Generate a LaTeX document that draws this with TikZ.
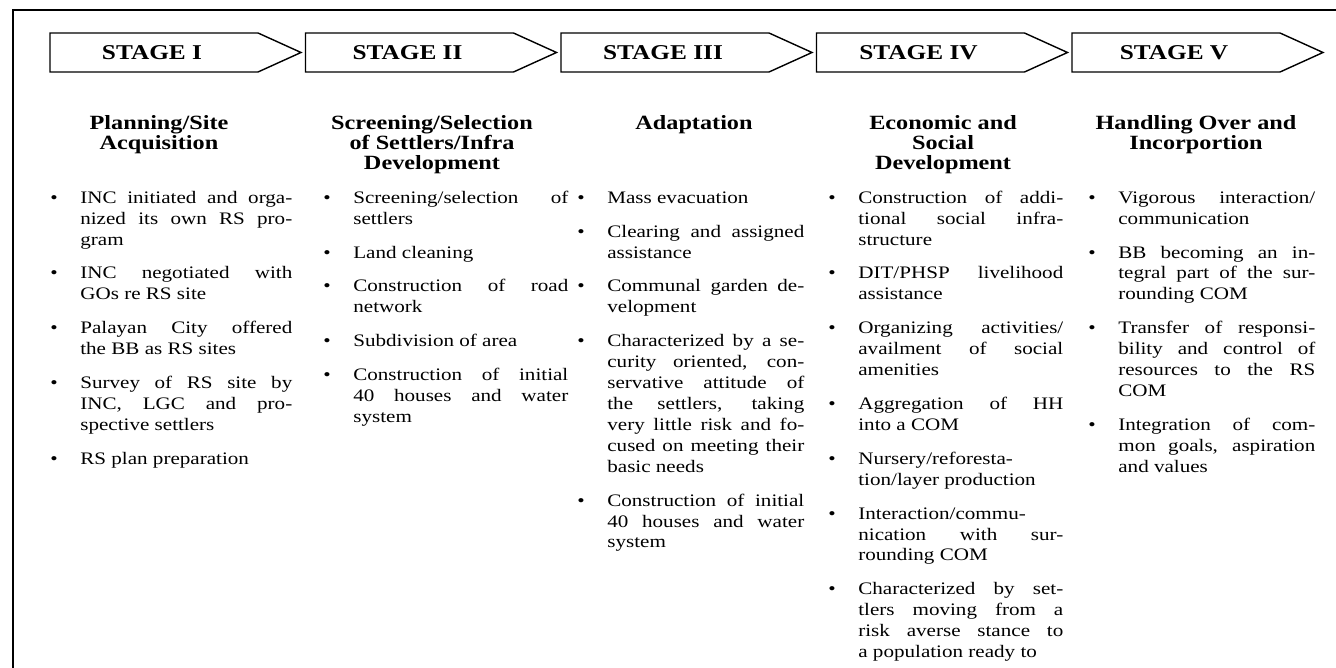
\documentclass[tikz,border=0pt]{standalone}
\usepackage{fontspec}
\setmainfont[FakeStretch=1.2]{Liberation Serif}
\usepackage{enumitem}
\setlist[itemize]{label=\textbullet, leftmargin=0.6cm, labelwidth=0.6cm, labelsep=0pt, align=left,
  topsep=0pt, partopsep=0pt, parsep=0pt, itemsep=0.26cm}
\tolerance=10000
\hbadness=10000
\tikzset{stage/.style={draw, line width=0.8pt}}
\tikzset{stagelabel/.style={font=\fontsize{12}{14}\selectfont\bfseries, inner sep=0pt}}
\tikzset{heading/.style={font=\fontsize{11.5}{11.3}\selectfont\bfseries, align=center, anchor=north, inner sep=0pt}}
\tikzset{bullets/.style={font=\fontsize{10}{11.9}\selectfont, align=justify, anchor=north west, inner sep=0pt}}

\begin{document}
\begin{tikzpicture}[x=0.02cm, y=-0.02cm]
\useasboundingbox (0,0) rectangle (1336,668);
% frame
\draw[line width=1pt] (13,668) -- (13,10) -- (1336,10);
% stages
\foreach \n [count=\i from 0] in {I,II,III,IV,V} {
  \draw[stage] ({50+255.5*\i},33) -- ++(208,0) -- ++(43,19.5) -- ++(-43,19.5) -- ++(-208,0) -- cycle;
  \node[stagelabel] (st\i) at ({152+255.5*\i},53) {STAGE \n};
}
% headings
\node[heading] (h0) at (159,115) {Planning/Site\\Acquisition};
\node[heading] (h1) at (432,115) {Screening/Selection\\of Settlers/Infra\\Development};
\node[heading] (h2) at (694,115) {Adaptation};
\node[heading] (h3) at (943,115) {Economic and\\Social\\Development};
\node[heading] (h4) at (1196,115) {Handling Over and\\Incorportion};
% lists
\node[bullets, text width=4.84cm] (l0) at (50,182) {\begin{itemize}
  \item INC initiated and orga-\linebreak nized its own RS pro-\linebreak gram
  \item INC negotiated with\linebreak GOs re RS site
  \item Palayan City offered\linebreak the BB as RS sites
  \item Survey of RS site by\linebreak INC, LGC and pro-\linebreak spective settlers
  \item RS plan preparation
\end{itemize}};
\node[bullets, text width=4.9cm] (l1) at (323,182) {\begin{itemize}
  \item Screening/selection of\linebreak settlers
  \item Land cleaning
  \item Construction of road\linebreak network
  \item Subdivision of area
  \item Construction of initial\linebreak 40 houses and water\linebreak system
\end{itemize}};
\node[bullets, text width=4.54cm] (l2) at (577,182) {\begin{itemize}
  \item Mass evacuation
  \item Clearing and assigned\linebreak assistance
  \item Communal garden de-\linebreak velopment
  \item Characterized by a se-\linebreak curity oriented, con-\linebreak servative attitude of\linebreak the settlers, taking\linebreak very little risk and fo-\linebreak cused on meeting their\linebreak basic needs
  \item Construction of initial\linebreak 40 houses and water\linebreak system
\end{itemize}};
\node[bullets, text width=4.7cm] (l3) at (828,182) {\begin{itemize}
  \item Construction of addi-\linebreak tional social infra-\linebreak structure
  \item DIT/PHSP livelihood\linebreak assistance
  \item Organizing activities/\linebreak availment of social\linebreak amenities
  \item Aggregation of HH\linebreak into a COM
  \item Nursery/reforesta-\linebreak tion/layer production
  \item Interaction/commu-\linebreak nication with sur-\linebreak rounding COM
  \item Characterized by set-\linebreak tlers moving from a\linebreak risk averse stance to\linebreak a population ready to
\end{itemize}};
\node[bullets, text width=4.54cm] (l4) at (1088,182) {\begin{itemize}
  \item Vigorous interaction/\linebreak communication
  \item BB becoming an in-\linebreak tegral part of the sur-\linebreak rounding COM
  \item Transfer of responsi-\linebreak bility and control of\linebreak resources to the RS\linebreak COM
  \item Integration of com-\linebreak mon goals, aspiration\linebreak and values
\end{itemize}};
\end{tikzpicture}
\end{document}
